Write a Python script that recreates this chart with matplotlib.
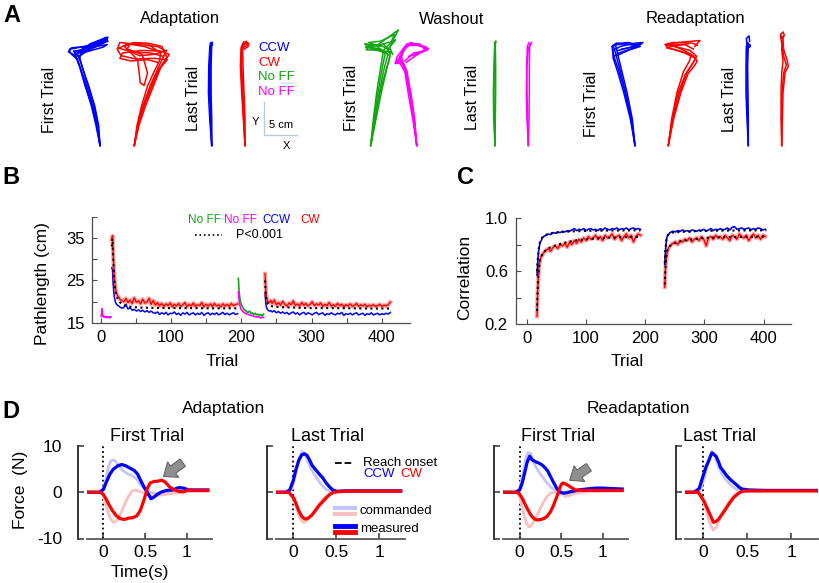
import numpy as np
import matplotlib
matplotlib.use("Agg")
import matplotlib.pyplot as plt
from matplotlib.lines import Line2D

plt.rcParams["font.family"] = ["Liberation Sans", "DejaVu Sans"]
plt.rcParams["axes.unicode_minus"] = False

W, H = 820, 583
BLUE, RED, GREEN, MAGENTA = "#0000ff", "#ff0000", "#12a612", "#ff00ff"
LBLUE, LRED = "#c3c6f8", "#f8c0c0"

# ---------------- panel A: hand trajectories (cm, relative to start) ----------------
adapt_first_ccw = [
    [(0, 0), (-0.4, 3), (-1.1, 6), (-2.0, 9), (-2.9, 11.5), (-3.4, 13.0), (-4.5, 14.0), (-4.6, 14.6), (-3.9, 14.7), (-1.5, 15.2), (0.6, 16.0), (1.2, 16.4), (1.0, 15.9), (-1.2, 14.9), (-3.0, 13.6), (-3.2, 13.2)],
    [(0, 0), (-0.5, 3), (-1.2, 6), (-2.2, 9), (-3.0, 11.8), (-3.6, 13.3), (-3.9, 14.2), (-2.5, 14.6), (0.0, 15.6), (1.1, 16.2), (0.5, 15.5), (-2.0, 14.3), (-3.3, 13.5)],
    [(0, 0), (-0.3, 3), (-0.9, 6), (-1.8, 9), (-2.6, 11.6), (-3.2, 13.4), (-4.0, 14.3), (-3.0, 14.4), (-0.8, 15.0), (1.2, 15.8), (0.8, 16.3), (-1.5, 15.4), (-3.4, 14.0)],
    [(0, 0), (-0.6, 3), (-1.3, 6), (-2.3, 9.2), (-3.1, 12.0), (-3.7, 13.6), (-4.8, 14.2), (-4.3, 14.8), (-2.0, 15.0), (0.2, 15.8), (1.0, 16.4), (0.2, 16.0), (-2.5, 14.8), (-3.5, 13.8)],
    [(0, 0), (-0.2, 3), (-0.8, 6), (-1.7, 9), (-2.5, 11.3), (-3.0, 13.0), (-3.5, 14.0), (-2.0, 14.2), (0.5, 14.9), (1.1, 15.3), (-0.5, 15.0), (-2.8, 14.2), (-3.1, 13.2)],
]
adapt_first_cw = [
    [(0, 0), (0.5, 3), (1.3, 6), (2.4, 9), (3.5, 11.5), (4.3, 13.2), (4.8, 14.3), (3.5, 15.0), (0.5, 15.3), (-2.2, 15.6), (-2.5, 14.8), (-0.5, 14.2), (2.5, 14.0), (4.4, 13.5)],
    [(0, 0), (0.6, 3), (1.5, 6), (2.7, 9), (3.8, 11.6), (4.6, 12.8), (5.3, 13.8), (4.0, 14.3), (1.0, 14.4), (-1.8, 14.0), (-2.2, 13.2), (-0.5, 12.8), (2.0, 13.0), (3.5, 12.6)],
    [(0, 0), (0.4, 3), (1.1, 6), (2.0, 9), (3.0, 11.2), (3.8, 12.8), (4.0, 14.0), (2.0, 15.4), (0.0, 15.6), (-1.5, 15.0), (0.5, 13.0), (0.9, 9.5), (1.5, 9.1), (2.0, 11.0), (1.2, 13.8), (-1.0, 14.6)],
    [(0, 0), (0.7, 3), (1.7, 6), (2.9, 9), (4.0, 11.8), (4.9, 13.4), (4.2, 15.0), (2.0, 15.5), (-0.5, 15.5), (-1.2, 14.5), (0.8, 13.6), (3.0, 13.8), (4.9, 14.4)],
    [(0, 0), (0.5, 3), (1.4, 6), (2.5, 9), (3.6, 11.4), (4.5, 12.4), (5.0, 13.0), (3.0, 13.2), (0.2, 13.1), (-2.0, 13.6), (-2.6, 14.6), (-1.0, 15.4), (1.5, 15.0), (3.2, 14.4)],
]
adapt_last_ccw = [
    [(0, 0), (-0.2, 4), (-0.35, 8), (-0.35, 12), (-0.2, 15.0), (-0.1, 15.6), (0.1, 15.2)],
    [(0, 0), (-0.1, 4), (-0.2, 8), (-0.2, 12), (-0.1, 15.2), (0.0, 15.5)],
    [(0, 0), (-0.3, 4), (-0.5, 8), (-0.45, 12), (-0.3, 14.8), (-0.2, 15.5)],
    [(0, 0), (0.0, 4), (-0.1, 8), (-0.1, 12), (0.0, 15.3), (0.1, 15.6)],
]
adapt_last_cw = [
    [(0, 0), (-0.1, 4), (-0.3, 8), (-0.5, 12), (-0.5, 14.5), (-0.3, 15.4), (0.4, 15.6), (0.5, 15.0), (-0.1, 14.6)],
    [(0, 0), (-0.2, 4), (-0.4, 8), (-0.6, 12), (-0.6, 14.8), (-0.2, 15.7), (0.3, 15.3)],
    [(0, 0), (0.0, 4), (-0.15, 8), (-0.3, 12), (-0.35, 14.6), (0.0, 15.5), (0.6, 15.4)],
    [(0, 0), (-0.25, 4), (-0.5, 8), (-0.7, 12), (-0.6, 14.2), (-0.4, 15.2), (0.2, 15.8), (0.3, 15.1), (-0.4, 14.8)],
]
wash_first_green = [
    [(0, 0), (0.6, 4), (1.3, 8), (2.0, 11.5), (2.6, 13.8), (1.5, 14.6), (-0.6, 15.0), (-0.9, 15.4), (1.0, 15.2), (4.2, 17.5), (3.6, 16.4), (2.6, 14.2)],
    [(0, 0), (0.5, 4), (1.1, 8), (1.7, 11.5), (2.2, 14.0), (0.5, 14.6), (-0.8, 14.9), (0.8, 15.1), (2.7, 15.6), (3.8, 16.0), (2.8, 14.8)],
    [(0, 0), (0.8, 4), (1.6, 8), (2.4, 11.5), (2.9, 13.5), (2.0, 14.3), (0.0, 14.8), (-0.5, 15.3), (1.8, 15.0), (3.0, 14.6), (3.3, 13.8)],
    [(0, 0), (0.4, 4), (0.9, 8), (1.5, 11.8), (1.9, 14.2), (0.8, 15.2), (-0.3, 15.6), (1.5, 15.8), (3.6, 16.8), (3.0, 15.5), (2.0, 14.5)],
    [(0, 0), (0.7, 4), (1.4, 8), (2.2, 11.0), (2.8, 13.0), (3.0, 14.2), (1.2, 14.4), (-0.7, 14.5), (-0.2, 15.1), (2.0, 15.3), (2.9, 14.0)],
]
wash_first_magenta = [
    [(0, 0), (-0.4, 4), (-1.0, 8), (-1.6, 11.5), (-2.2, 12.8), (-3.2, 12.4), (-3.0, 13.4), (-1.5, 15.4), (0.2, 15.3), (1.8, 14.6), (0.6, 14.1), (-1.2, 13.5)],
    [(0, 0), (-0.5, 4), (-1.1, 8), (-1.8, 11.6), (-2.5, 13.0), (-2.0, 14.5), (-1.0, 15.6), (0.8, 15.0), (1.6, 14.4), (-0.5, 14.0), (-1.8, 12.8)],
    [(0, 0), (-0.3, 4), (-0.9, 8), (-1.5, 11.3), (-2.0, 12.4), (-3.3, 12.5), (-2.6, 13.0), (-1.8, 14.8), (-0.6, 15.5), (1.5, 14.9), (1.0, 14.2), (-1.0, 13.6)],
    [(0, 0), (-0.6, 4), (-1.3, 8), (-1.9, 11.8), (-2.3, 13.5), (-1.6, 15.1), (0.0, 15.2), (1.7, 14.7), (0.3, 13.9), (-1.6, 12.6)],
    [(0, 0), (-0.4, 4), (-1.0, 8), (-1.7, 11.0), (-2.4, 12.2), (-2.9, 12.8), (-2.2, 14.2), (-1.2, 15.2), (0.5, 15.4), (1.2, 14.5), (-0.5, 13.6)],
]
wash_last_green = [
    [(0, 0), (-0.1, 4), (-0.15, 8), (-0.1, 12), (0.0, 15.0), (0.1, 15.8)],
    [(0, 0), (0.05, 4), (0.1, 8), (0.1, 12), (0.05, 15.2), (-0.1, 15.6)],
    [(0, 0), (-0.2, 4), (-0.25, 8), (-0.15, 12), (-0.05, 15.3), (0.15, 15.7)],
]
wash_last_magenta = [
    [(0, 0), (-0.1, 4), (-0.2, 8), (-0.25, 12), (-0.15, 15.0), (0.1, 15.6)],
    [(0, 0), (0.1, 4), (0.15, 8), (0.15, 12), (0.2, 15.2), (0.5, 15.6)],
    [(0, 0), (-0.2, 4), (-0.3, 8), (-0.2, 12), (0.0, 14.8), (0.4, 15.3)],
]
re_first_ccw = [
    [(0, 0), (-0.6, 4), (-1.5, 8), (-2.5, 11.5), (-3.2, 13.5), (-3.5, 15.0), (-2.8, 15.5), (-0.5, 15.3), (1.0, 15.4), (0.0, 14.8), (-2.5, 14.0), (-3.2, 13.5)],
    [(0, 0), (-0.5, 4), (-1.4, 8), (-2.3, 11.6), (-2.9, 13.8), (-3.3, 15.2), (-1.5, 15.4), (0.8, 15.0), (-0.8, 14.5), (-2.8, 13.6)],
    [(0, 0), (-0.7, 4), (-1.7, 8), (-2.7, 11.4), (-3.3, 13.2), (-3.4, 14.4), (-2.2, 15.0), (0.0, 15.5), (1.2, 15.6), (0.2, 15.0), (-2.0, 14.6)],
    [(0, 0), (-0.4, 4), (-1.2, 8), (-2.1, 11.7), (-2.7, 14.2), (-3.0, 15.4), (-1.0, 15.6), (0.5, 15.2), (-1.0, 14.8), (-2.5, 14.4)],
]
re_first_cw = [
    [(0, 0), (0.6, 4), (1.5, 8), (2.6, 10.8), (3.6, 12.3), (4.3, 13.5), (3.3, 14.4), (1.0, 15.0), (-0.5, 15.3), (1.5, 15.6), (4.8, 15.9), (4.0, 15.0)],
    [(0, 0), (0.7, 4), (1.7, 8), (2.8, 11.0), (3.8, 12.6), (4.1, 13.2), (2.5, 14.0), (0.0, 14.8), (-0.4, 15.2), (2.5, 15.3), (3.8, 14.6)],
    [(0, 0), (0.5, 4), (1.3, 8), (2.3, 11.2), (3.2, 12.8), (3.5, 13.8), (2.0, 14.6), (-0.2, 15.4), (0.8, 15.6), (3.6, 15.5), (4.4, 15.2)],
    [(0, 0), (0.8, 4), (1.9, 8), (3.0, 10.9), (3.9, 12.0), (4.4, 12.8), (3.8, 13.6), (1.5, 14.4), (-0.3, 14.8), (1.0, 15.1), (3.0, 15.4)],
]
re_last_ccw = [
    [(0, 0), (-0.1, 4), (-0.2, 8), (-0.2, 12), (-0.15, 15.0), (-0.3, 16.2), (0.1, 16.6), (0.2, 15.8)],
    [(0, 0), (0.0, 4), (-0.05, 8), (-0.1, 12), (0.0, 15.4), (0.3, 15.2)],
    [(0, 0), (-0.2, 4), (-0.35, 8), (-0.35, 12), (-0.3, 15.0), (-0.1, 15.6), (0.3, 15.0), (-0.2, 14.6)],
]
re_last_cw = [
    [(0, 0), (0.0, 4), (0.05, 8), (0.3, 11.0), (0.7, 12.2), (0.3, 13.5), (0.0, 15.5), (-0.2, 16.8), (0.2, 17.2), (0.4, 16.7), (0.0, 16.3)],
    [(0, 0), (-0.1, 4), (-0.1, 8), (0.0, 11.0), (0.2, 12.8), (0.0, 14.5), (0.1, 16.0), (0.3, 16.5)],
    [(0, 0), (0.1, 4), (0.2, 8), (0.5, 11.0), (1.0, 12.0), (0.8, 13.0), (0.3, 14.5), (0.2, 16.0), (-0.1, 16.6)],
]

# ---------------- panel B: path length (cm) per trial ----------------
base_trials = list(range(1, 16))
base_magenta = [16.6, 18.4, 17.0, 16.4, 16.7, 16.3, 16.5, 16.2, 16.6, 16.3, 16.4, 16.2, 16.5, 16.3, 16.4]
base_green = [16.5, 17.6, 16.8, 16.5, 16.6, 16.4, 16.5, 16.3, 16.5, 16.4, 16.3, 16.3, 16.4, 16.2, 16.5]

adapt_trials = [16, 17, 18, 19, 20, 21, 22, 24, 26, 28, 30] + list(range(33, 196, 3))
adapt_red = [34.5, 35.5, 31.0, 28.0, 25.0, 23.5, 22.5, 21.5, 21.0, 20.5, 20.3,
             20.0, 20.8, 19.8, 20.4, 19.6, 20.9, 19.9, 20.2, 19.5, 20.6,
             19.7, 19.9, 20.8, 19.4, 20.3, 19.2, 19.8, 19.0, 19.6, 18.9,
             19.5, 19.1, 19.7, 18.8, 19.4, 19.0, 19.6, 18.9, 19.3, 19.8,
             18.8, 19.4, 19.0, 19.7, 18.9, 19.3, 19.1, 19.8, 18.8, 19.4,
             19.0, 19.5, 18.9, 19.6, 19.0, 19.3, 18.8, 19.5, 19.0, 19.4,
             18.9, 19.6, 19.1, 19.3, 19.5]
adapt_blue = [28.0, 27.5, 24.0, 22.0, 20.8, 20.0, 19.6, 19.2, 19.0, 18.7, 18.5,
              18.6, 19.4, 18.3, 18.6, 18.0, 18.2, 17.8, 18.1, 17.7, 18.0,
              17.6, 17.9, 17.5, 17.8, 17.4, 17.3, 17.6, 17.0, 17.4, 17.1,
              17.5, 16.9, 17.3, 17.2, 17.6, 17.0, 17.3, 16.8, 17.4, 17.1,
              17.5, 16.9, 17.2, 17.4, 16.9, 17.3, 17.0, 17.5, 16.8, 17.2,
              17.4, 16.9, 17.3, 17.0, 17.4, 16.9, 17.2, 17.5, 17.0, 17.3,
              16.9, 17.2, 17.4, 17.0, 17.2]
adapt_fit_trials = [16, 17, 18, 19, 20, 21, 22, 24, 26, 28, 30, 35, 40, 50, 60, 80, 100, 130, 160, 195]
adapt_fit = [33.0, 34.8, 30.5, 27.0, 24.5, 23.0, 22.0, 20.8, 20.2, 19.8, 19.5, 19.1, 18.9, 18.7,
             18.6, 18.55, 18.5, 18.5, 18.45, 18.45]

wash_trials = [196, 197, 198, 199, 200, 202, 204, 206, 208, 210, 212, 214, 216, 218, 220, 222, 224, 226, 228, 230, 232]
wash_green = [25.5, 22.5, 21.0, 20.0, 19.4, 18.8, 18.2, 18.0, 17.6, 17.5, 17.8, 17.2, 17.4, 17.0, 17.3, 16.9, 17.1, 16.8, 17.0, 16.7, 17.1]
wash_magenta = [22.3, 20.5, 19.3, 18.6, 18.2, 17.8, 17.5, 17.3, 17.1, 17.0, 16.9, 16.8, 16.7, 16.6, 16.5, 16.4, 16.5, 16.3, 16.2, 16.4, 16.3]

re_trials = [234, 235, 236, 237, 238, 240, 242] + list(range(244, 413, 3))
re_red = [26.6, 22.5, 21.0, 20.4, 20.0, 19.8, 20.3,
          19.6, 20.4, 19.3, 19.8, 19.2, 20.1, 19.4, 19.0, 19.7, 19.3,
          20.2, 19.1, 19.5, 19.0, 19.8, 19.2, 19.6, 19.0, 19.4, 20.0,
          19.1, 19.5, 19.2, 19.7, 18.9, 19.4, 19.1, 19.8, 19.0, 19.3,
          18.9, 19.6, 19.1, 19.4, 18.8, 19.3, 19.0, 19.5, 18.9, 19.2,
          19.6, 18.9, 19.3, 19.0, 19.4, 18.8, 19.2, 19.0, 19.3, 18.9,
          19.1, 19.4, 18.9, 19.2, 19.0, 19.3, 19.9]
re_blue = [22.0, 19.5, 18.7, 18.3, 18.0, 17.8, 17.9,
           17.6, 17.9, 17.4, 17.7, 17.3, 17.6, 17.2, 17.5, 17.0, 17.4,
           17.6, 17.1, 17.4, 16.9, 17.3, 17.5, 17.0, 17.4, 17.2, 16.9,
           17.3, 17.5, 17.0, 17.2, 17.4, 16.8, 17.2, 17.0, 17.4, 17.1,
           16.9, 17.3, 17.1, 17.5, 16.8, 17.2, 17.0, 17.3, 16.9, 17.2,
           17.4, 16.9, 17.1, 17.3, 16.8, 17.2, 17.0, 17.4, 16.9, 17.1,
           17.3, 16.9, 17.2, 17.0, 17.3, 17.1, 17.5]
re_fit_trials = [234, 235, 236, 237, 238, 240, 242, 245, 250, 260, 280, 300, 330, 360, 390, 412]
re_fit = [25.0, 21.5, 20.3, 19.8, 19.5, 19.2, 19.0, 18.9, 18.8, 18.7, 18.6, 18.5, 18.5, 18.45, 18.4, 18.4]

# ---------------- panel C: correlation per trial ----------------
c_adapt_trials = [17, 18, 19, 20, 21, 22, 24, 26, 28, 30, 33] + list(range(36, 193, 4))
c_adapt_blue = [0.57, 0.66, 0.72, 0.76, 0.79, 0.81, 0.83, 0.85, 0.86, 0.865, 0.87,
                0.88, 0.875, 0.89, 0.885, 0.895, 0.89, 0.9, 0.895, 0.905, 0.9,
                0.91, 0.92, 0.905, 0.915, 0.91, 0.92, 0.905, 0.915, 0.92, 0.91,
                0.915, 0.905, 0.92, 0.91, 0.925, 0.915, 0.91, 0.92, 0.915, 0.925,
                0.91, 0.92, 0.915, 0.925, 0.91, 0.92, 0.925, 0.915, 0.92, 0.915]
c_adapt_red = [0.26, 0.44, 0.54, 0.61, 0.65, 0.68, 0.71, 0.72, 0.74, 0.745, 0.76,
               0.77, 0.75, 0.78, 0.79, 0.77, 0.8, 0.79, 0.81, 0.78, 0.82,
               0.8, 0.83, 0.81, 0.84, 0.82, 0.85, 0.83, 0.86, 0.84, 0.85,
               0.87, 0.84, 0.86, 0.83, 0.87, 0.85, 0.86, 0.88, 0.84, 0.86,
               0.87, 0.83, 0.86, 0.88, 0.85, 0.87, 0.82, 0.86, 0.88, 0.87]
c_adapt_fit_trials = [17, 18, 19, 20, 21, 22, 24, 26, 28, 30, 33, 36, 40, 50, 60, 80, 100, 130, 160, 192]
c_adapt_fit_blue = [0.60, 0.68, 0.73, 0.77, 0.80, 0.82, 0.84, 0.855, 0.865, 0.87, 0.875, 0.88, 0.885,
                    0.89, 0.895, 0.9, 0.903, 0.905, 0.906, 0.907]
c_adapt_fit_red = [0.30, 0.46, 0.55, 0.61, 0.65, 0.68, 0.71, 0.725, 0.74, 0.75, 0.76, 0.77, 0.78,
                   0.795, 0.81, 0.83, 0.84, 0.85, 0.855, 0.858]

c_re_trials = [233, 234, 235, 236, 237, 238, 240, 242, 244] + list(range(247, 406, 4))
c_re_blue = [0.65, 0.74, 0.8, 0.84, 0.86, 0.87, 0.88, 0.89, 0.895,
             0.9, 0.895, 0.905, 0.9, 0.91, 0.9, 0.905, 0.895, 0.91, 0.905,
             0.9, 0.91, 0.905, 0.915, 0.9, 0.91, 0.92, 0.905, 0.915, 0.91,
             0.92, 0.91, 0.915, 0.925, 0.91, 0.93, 0.935, 0.915, 0.92, 0.925,
             0.915, 0.92, 0.925, 0.91, 0.92, 0.915, 0.925, 0.92, 0.91, 0.915]
c_re_red = [0.48, 0.6, 0.67, 0.71, 0.74, 0.76, 0.78, 0.79, 0.8,
            0.81, 0.82, 0.8, 0.83, 0.82, 0.84, 0.83, 0.85, 0.82, 0.84,
            0.85, 0.83, 0.86, 0.84, 0.79, 0.85, 0.86, 0.84, 0.87, 0.85,
            0.86, 0.84, 0.87, 0.85, 0.83, 0.87, 0.86, 0.84, 0.88, 0.86,
            0.85, 0.87, 0.83, 0.86, 0.88, 0.85, 0.87, 0.84, 0.87, 0.86]
c_re_fit_trials = [233, 234, 235, 236, 237, 238, 240, 242, 245, 250, 260, 280, 300, 330, 360, 405]
c_re_fit_blue = [0.66, 0.75, 0.80, 0.84, 0.86, 0.87, 0.88, 0.885, 0.89, 0.892, 0.895, 0.9, 0.903, 0.905, 0.906, 0.907]
c_re_fit_red = [0.50, 0.62, 0.68, 0.72, 0.745, 0.76, 0.78, 0.79, 0.80, 0.81, 0.825, 0.84, 0.85, 0.855, 0.858, 0.86]

# ---------------- panel D: force profiles (s, N) ----------------
d1_mb_t = [-0.2, -0.05, 0.0, 0.04, 0.08, 0.12, 0.17, 0.22, 0.27, 0.32, 0.37, 0.41, 0.45, 0.49, 0.53, 0.57, 0.61, 0.65, 0.7, 0.76, 0.83, 0.9, 0.96, 1.02, 1.1, 1.2, 1.25]
d1_mb_f = [0, 0, 0.6, 2.4, 4.0, 5.0, 5.7, 6.0, 5.7, 5.2, 4.7, 3.9, 2.4, 1.0, -0.2, -1.4, -1.0, -0.4, 0.1, 0.4, 0.5, 1.0, 0.9, 0.5, 0.5, 0.5, 0.5]
d1_cb_t = [-0.2, -0.05, 0.0, 0.03, 0.06, 0.09, 0.12, 0.15, 0.19, 0.24, 0.29, 0.34, 0.39, 0.44, 0.5, 0.56, 0.62, 0.7, 0.8, 0.95, 1.1, 1.25]
d1_cb_f = [0, 0, 0.8, 3.0, 5.5, 6.8, 7.0, 6.6, 5.6, 4.6, 4.0, 3.6, 3.0, 1.8, 0.6, 0.0, -0.3, -0.1, 0.2, 0.3, 0.3, 0.3]
d1_mr_t = [-0.2, -0.03, 0.0, 0.03, 0.07, 0.11, 0.15, 0.2, 0.25, 0.3, 0.35, 0.4, 0.44, 0.47, 0.5, 0.53, 0.56, 0.6, 0.65, 0.7, 0.74, 0.79, 0.84, 0.9, 0.96, 1.02, 1.1, 1.25]
d1_mr_f = [0, 0, -0.5, -1.4, -2.8, -4.0, -5.0, -5.7, -5.9, -5.6, -5.5, -5.1, -4.0, -2.5, -0.8, 1.0, 2.0, 2.3, 2.4, 2.6, 2.2, 1.2, 0.6, 0.2, 0.1, 0.5, 0.4, 0.4]
d1_cr_t = [-0.2, -0.03, 0.0, 0.04, 0.08, 0.12, 0.15, 0.19, 0.24, 0.29, 0.34, 0.38, 0.43, 0.5, 0.57, 0.65, 0.73, 0.85, 1.0, 1.25]
d1_cr_f = [0, 0, -0.8, -3.5, -5.6, -6.5, -6.3, -5.3, -3.2, -1.2, 0.2, 0.5, 0.2, -0.3, -0.8, -0.7, -0.5, -0.2, 0.1, 0.2]

d2_mb_t = [-0.2, -0.09, -0.04, 0.0, 0.03, 0.065, 0.1, 0.13, 0.16, 0.19, 0.22, 0.26, 0.3, 0.34, 0.38, 0.42, 0.46, 0.51, 0.6, 0.8, 1.0, 1.25]
d2_mb_f = [0, 0, 0.5, 2.5, 4.8, 6.9, 8.1, 8.3, 8.0, 7.0, 5.8, 4.9, 4.0, 3.2, 2.1, 1.2, 0.5, 0.2, 0.3, 0.3, 0.3, 0.3]
d2_cb_t = [-0.2, -0.06, -0.02, 0.02, 0.06, 0.1, 0.13, 0.17, 0.2, 0.24, 0.28, 0.33, 0.38, 0.44, 0.5, 0.7, 1.0, 1.25]
d2_cb_f = [0, 0, 0.6, 3.2, 6.8, 8.8, 8.5, 6.8, 5.4, 4.0, 2.9, 1.6, 0.6, 0.2, 0.2, 0.2, 0.2, 0.2]
d2_mr_t = [-0.2, -0.05, 0.01, 0.04, 0.065, 0.1, 0.13, 0.15, 0.18, 0.22, 0.26, 0.3, 0.35, 0.39, 0.43, 0.47, 0.55, 0.7, 1.0, 1.25]
d2_mr_f = [0, 0, -1.4, -2.8, -4.0, -5.2, -5.7, -5.8, -5.5, -4.9, -3.9, -2.9, -1.9, -1.1, -0.4, 0.0, 0.2, 0.25, 0.25, 0.25]
d2_cr_t = [-0.2, -0.05, 0.0, 0.04, 0.08, 0.11, 0.13, 0.17, 0.21, 0.25, 0.3, 0.35, 0.4, 0.45, 0.55, 0.8, 1.25]
d2_cr_f = [0, 0, -1.2, -3.6, -5.6, -6.4, -6.5, -6.0, -5.0, -3.9, -2.6, -1.4, -0.6, -0.2, 0.1, 0.1, 0.1]

d3_mb_t = [-0.2, -0.05, 0.0, 0.03, 0.06, 0.09, 0.12, 0.15, 0.19, 0.23, 0.27, 0.31, 0.34, 0.37, 0.41, 0.45, 0.49, 0.53, 0.57, 0.61, 0.66, 0.71, 0.8, 0.91, 1.0, 1.1, 1.23]
d3_mb_f = [0, 0, 0.5, 2.0, 4.2, 6.5, 7.8, 7.0, 6.6, 6.3, 5.9, 5.2, 4.5, 3.4, 2.0, 0.7, 0.0, -0.2, -0.1, 0.1, 0.3, 0.5, 0.7, 0.9, 0.9, 0.8, 0.7]
d3_cb_t = [-0.2, -0.05, 0.0, 0.04, 0.08, 0.1, 0.13, 0.16, 0.19, 0.23, 0.27, 0.32, 0.37, 0.41, 0.45, 0.5, 0.55, 0.6, 0.7, 0.9, 1.23]
d3_cb_f = [0, 0, 0.6, 4.0, 7.8, 8.6, 8.4, 7.0, 5.6, 4.4, 3.4, 2.2, 1.2, 0.6, 0.1, -0.1, 0.0, 0.2, 0.4, 0.5, 0.5]
d3_mr_t = [-0.2, -0.03, 0.0, 0.03, 0.06, 0.09, 0.12, 0.15, 0.18, 0.21, 0.25, 0.29, 0.33, 0.37, 0.4, 0.43, 0.46, 0.48, 0.5, 0.52, 0.55, 0.59, 0.63, 0.67, 0.75, 0.83, 1.0, 1.23]
d3_mr_f = [0, 0, -0.4, -1.3, -2.4, -3.5, -4.5, -5.3, -5.8, -6.0, -5.9, -5.7, -5.2, -4.2, -3.1, -1.7, -0.3, 0.9, 1.7, 2.0, 1.8, 1.4, 0.9, 0.5, 0.4, 0.4, 0.4, 0.4]
d3_cr_t = [-0.2, -0.04, 0.0, 0.04, 0.08, 0.11, 0.14, 0.19, 0.24, 0.29, 0.33, 0.37, 0.41, 0.45, 0.5, 0.55, 0.6, 0.67, 0.8, 1.0, 1.23]
d3_cr_f = [0, 0, -1.0, -4.0, -6.6, -7.5, -7.2, -5.7, -3.8, -2.0, -0.9, -0.2, 0.0, 0.1, -0.4, -0.9, -0.7, -0.2, 0.1, 0.2, 0.2]

d4_mb_t = [-0.2, -0.1, -0.04, 0.0, 0.035, 0.07, 0.09, 0.105, 0.13, 0.15, 0.18, 0.2, 0.24, 0.27, 0.32, 0.37, 0.41, 0.44, 0.52, 0.7, 1.0, 1.3]
d4_mb_f = [0, 0, 0.8, 3.3, 5.4, 6.9, 7.9, 8.5, 8.1, 7.8, 6.5, 5.4, 4.4, 3.6, 2.6, 1.8, 1.1, 0.7, 0.5, 0.4, 0.4, 0.4]
d4_cb_t = [-0.2, -0.08, -0.02, 0.03, 0.07, 0.1, 0.13, 0.18, 0.22, 0.27, 0.32, 0.37, 0.42, 0.5, 0.8, 1.3]
d4_cb_f = [0, 0, 0.8, 4.0, 7.3, 8.8, 8.3, 5.4, 3.8, 2.5, 1.5, 0.7, 0.3, 0.3, 0.3, 0.3]
d4_mr_t = [-0.2, -0.05, 0.01, 0.04, 0.07, 0.1, 0.12, 0.15, 0.18, 0.22, 0.26, 0.3, 0.35, 0.4, 0.44, 0.5, 0.8, 1.3]
d4_mr_f = [0, 0, -1.8, -3.0, -4.3, -5.6, -6.5, -6.3, -5.8, -4.7, -3.6, -2.4, -1.1, -0.3, 0.2, 0.3, 0.3, 0.3]
d4_cr_t = [-0.2, -0.05, 0.0, 0.04, 0.08, 0.12, 0.15, 0.2, 0.25, 0.29, 0.34, 0.39, 0.45, 0.6, 1.3]
d4_cr_f = [0, 0, -1.3, -4.2, -6.8, -8.2, -7.6, -5.4, -3.6, -2.2, -1.0, -0.2, 0.1, 0.2, 0.2]


def box(left, top, right, bottom):
    # pixel box -> figure fraction rect
    return [left / W, 1 - bottom / H, (right - left) / W, (bottom - top) / H]


def ftext(px, py, s, **kw):
    kw.setdefault("ha", "center")
    kw.setdefault("va", "center")
    fig.text(px / W, 1 - py / H, s, **kw)


def fline(xs, ys, **kw):
    fig.add_artist(Line2D([x / W for x in xs], [1 - y / H for y in ys], transform=fig.transFigure, **kw))


fig = plt.figure(figsize=(8.2, 5.83), dpi=100)

# ---- A ----
PX_CM = 6.6
axA = fig.add_axes(box(0, 25, 820, 160))
axA.set_xlim(0, W / PX_CM)
axA.set_ylim(-2.2, 18.25)
axA.axis("off")
a_groups = [
    (15.15, adapt_first_ccw, BLUE), (20.35, adapt_first_cw, RED),
    (32.08, adapt_last_ccw, BLUE), (37.12, adapt_last_cw, RED),
    (56.17, wash_first_green, GREEN), (63.14, wash_first_magenta, MAGENTA),
    (75.0, wash_last_green, GREEN), (80.05, wash_last_magenta, MAGENTA),
    (96.21, re_first_ccw, BLUE), (101.26, re_first_cw, RED),
    (113.38, re_last_ccw, BLUE), (118.44, re_last_cw, RED),
]
for x0, traces, col in a_groups:
    for tr in traces:
        xs, ys = zip(*tr)
        axA.plot(np.array(xs) + x0, ys, color=col, lw=1.1, solid_joinstyle="round")
# 5 cm scale bar
axA.plot([40.0, 40.0, 45.0], [6.6, 1.6, 1.6], color="#b9c9dc", lw=1.0)

ftext(12, 16, "A", fontsize=17, fontweight="bold")
ftext(180, 19, "Adaptation", fontsize=12)
ftext(452, 19, "Washout", fontsize=12)
ftext(695, 18, "Readaptation", fontsize=12)
for px, py, s in [(50, 100, "First Trial"), (193.5, 98, "Last Trial"), (351.7, 98, "First Trial"),
                  (472.5, 97, "Last Trial"), (591.7, 104, "First Trial"), (730, 99, "Last Trial")]:
    ftext(px, py, s, rotation=90, fontsize=11.5)
for py, s, col in [(48, "CCW", BLUE), (63, "CW", RED), (77.5, "No FF", GREEN), (92, "No FF", MAGENTA)]:
    ftext(258, py, s, color=col, ha="left", fontsize=9.5)
ftext(255, 122, "Y", fontsize=8)
ftext(281, 125, "5 cm", fontsize=8)
ftext(286, 146, "X", fontsize=8)


def trial_axes(ax, off):
    for s in ("top", "right"):
        ax.spines[s].set_visible(False)
    ax.spines["left"].set_position(("outward", off))
    for s in ("left", "bottom"):
        ax.spines[s].set_color("0.3")
        ax.spines[s].set_linewidth(0.9)
    ax.tick_params(which="both", direction="in", length=3.5, width=0.8, color="0.3", labelsize=12)


# ---- B ----
axB = fig.add_axes(box(97, 216.7, 410, 323))
axB.plot(base_trials, base_green, color=GREEN, lw=1)
axB.plot(base_trials, base_magenta, color=MAGENTA, lw=1)
axB.plot(adapt_trials, adapt_blue, color=BLUE, lw=1.1)
axB.plot(adapt_trials, adapt_red, color=RED, lw=3, alpha=0.35)
axB.plot(adapt_trials, adapt_red, color=RED, lw=1)
axB.plot(adapt_fit_trials, adapt_fit, color="k", ls=":", lw=1.5)
axB.plot(wash_trials, wash_green, color=GREEN, lw=1.2)
axB.plot(wash_trials, wash_magenta, color=MAGENTA, lw=1.2)
axB.plot(re_trials, re_blue, color=BLUE, lw=1.1)
axB.plot(re_trials, re_red, color=RED, lw=3, alpha=0.35)
axB.plot(re_trials, re_red, color=RED, lw=1)
axB.plot(re_fit_trials, re_fit, color="k", ls=":", lw=1.5)
axB.set_xlim(-5, 440)
axB.set_ylim(15, 40)
axB.set_yticks([15, 25, 35])
axB.set_yticks([20, 30, 40], minor=True)
axB.set_xticks([0, 100, 200, 300, 400])
axB.set_xticks([50, 150, 250, 350], minor=True)
trial_axes(axB, 3.6)
axB.tick_params(axis="y", pad=5)
axB.tick_params(axis="x", pad=5)

ftext(11, 178, "B", fontsize=17, fontweight="bold")
ftext(43, 284, "Pathlength (cm)", rotation=90, fontsize=12.5)
ftext(222, 362, "Trial", fontsize=12.5)
for px, s, col in [(188, "No FF", GREEN), (224, "No FF", MAGENTA), (262, "CCW", BLUE), (300, "CW", RED)]:
    ftext(px, 220, s, color=col, ha="left", fontsize=8.5)
fline([195, 222], [235, 235], color="k", ls=":", lw=1.2)
ftext(236, 235, "P<0.001", ha="left", fontsize=9)

# ---- C ----
axC = fig.add_axes(box(519.3, 218, 790.7, 324.3))
axC.plot(c_adapt_trials, c_adapt_red, color=RED, lw=3, alpha=0.35)
axC.plot(c_adapt_trials, c_adapt_red, color=RED, lw=1)
axC.plot(c_adapt_trials, c_adapt_blue, color=BLUE, lw=1.2)
axC.plot(c_adapt_fit_trials, c_adapt_fit_blue, color="k", ls=":", lw=1.5)
axC.plot(c_adapt_fit_trials, c_adapt_fit_red, color="k", ls=":", lw=1.5)
axC.plot(c_re_trials, c_re_red, color=RED, lw=3, alpha=0.35)
axC.plot(c_re_trials, c_re_red, color=RED, lw=1)
axC.plot(c_re_trials, c_re_blue, color=BLUE, lw=1.2)
axC.plot(c_re_fit_trials, c_re_fit_blue, color="k", ls=":", lw=1.5)
axC.plot(c_re_fit_trials, c_re_fit_red, color="k", ls=":", lw=1.5)
axC.set_xlim(-13, 446)
axC.set_ylim(0.2, 1.0)
axC.set_yticks([0.2, 0.6, 1.0])
axC.set_yticklabels(["0.2", "0.6", "1.0"])
axC.set_yticks([0.4, 0.8], minor=True)
axC.set_xticks([0, 100, 200, 300, 400])
trial_axes(axC, 2.2)
axC.tick_params(axis="y", pad=6)
axC.tick_params(axis="x", pad=5)

ftext(466, 178, "C", fontsize=17, fontweight="bold")
ftext(465, 277, "Correlation", rotation=90, fontsize=12.5)
ftext(627, 361, "Trial", fontsize=12.5)

# ---- D ----
d_panels = [
    ((86.7, 212), "First Trial", (d1_cb_t, d1_cb_f, d1_cr_t, d1_cr_f, d1_mb_t, d1_mb_f, d1_mr_t, d1_mr_f)),
    ((276, 405), "Last Trial", (d2_cb_t, d2_cb_f, d2_cr_t, d2_cr_f, d2_mb_t, d2_mb_f, d2_mr_t, d2_mr_f)),
    ((503, 628), "First Trial", (d3_cb_t, d3_cb_f, d3_cr_t, d3_cr_f, d3_mb_t, d3_mb_f, d3_mr_t, d3_mr_f)),
    ((685, 818), "Last Trial", (d4_cb_t, d4_cb_f, d4_cr_t, d4_cr_f, d4_mb_t, d4_mb_f, d4_mr_t, d4_mr_f)),
]
d_axes = []
for i, ((l, r), title, curves) in enumerate(d_panels):
    ax = fig.add_axes(box(l, 446, r, 538.5))
    cbt, cbf, crt, crf, mbt, mbf, mrt, mrf = curves
    ax.axvline(0, color="k", ls=":", lw=1.3)
    ax.plot(cbt, cbf, color=LBLUE, lw=2.0)
    ax.plot(crt, crf, color=LRED, lw=2.0)
    ax.plot(mbt, mbf, color=BLUE, lw=2.3)
    ax.plot(mrt, mrf, color=RED, lw=2.3)
    ax.set_xlim(-0.2, 1.3)
    ax.set_ylim(-10, 10)
    ax.set_xticks([0, 0.5, 1])
    ax.set_xticklabels(["0", "0.5", "1"])
    ax.set_yticks([-10, 0, 10])
    for s in ("top", "right"):
        ax.spines[s].set_visible(False)
    ax.spines["left"].set_position(("outward", 6.5))
    ax.spines["left"].set_color("0.15")
    ax.spines["left"].set_linewidth(1.3)
    ax.spines["bottom"].set_color("0.35")
    ax.spines["bottom"].set_linewidth(1.3)
    ax.tick_params(direction="in", length=4, width=1.1, color="0.2", labelsize=12.5)
    ax.tick_params(axis="y", pad=11)
    ax.tick_params(axis="x", pad=5)
    if i > 0:
        ax.set_yticklabels([])
    d_axes.append(ax)

arrow_kw = dict(arrowstyle="simple,head_length=0.5,head_width=0.8,tail_width=0.38",
                fc="0.56", ec="0.4", lw=0.8, mutation_scale=17, shrinkA=0, shrinkB=0)
d_axes[0].annotate("", xy=(0.72, 3.4), xytext=(0.95, 6.4), arrowprops=arrow_kw)
d_axes[2].annotate("", xy=(0.6, 2.6), xytext=(0.83, 5.4), arrowprops=arrow_kw)

ftext(11, 411, "D", fontsize=17, fontweight="bold")
ftext(224, 408, "Adaptation", fontsize=12.5)
ftext(638, 408, "Readaptation", fontsize=12.5)
for px, s in [(147, "First Trial"), (328, "Last Trial"), (558, "First Trial"), (720, "Last Trial")]:
    ftext(px, 436.5, s, fontsize=13)
ftext(21, 490, "Force  (N)", rotation=90, fontsize=12.5)
ftext(140, 573, "Time(s)", fontsize=12.5)

# legend of D (drawn beside the second panel)
fline([335, 352], [462.7, 462.7], color="k", ls="--", lw=1.3)
ftext(363, 462.7, "Reach onset", ha="left", fontsize=9.5)
ftext(363, 474, "CCW", ha="left", color=BLUE, fontsize=9.5)
ftext(400, 474, "CW", ha="left", color=RED, fontsize=9.5)
fline([335, 355], [508.3, 508.3], color=LBLUE, lw=3)
fline([335, 355], [514, 514], color=LRED, lw=3)
ftext(360, 511, "commanded", ha="left", fontsize=9.5)
fline([335, 355], [526, 526], color=BLUE, lw=3.5)
fline([335, 355], [532, 532], color=RED, lw=3.5)
ftext(360, 529, "measured", ha="left", fontsize=9.5)

fig.savefig("out.png", dpi=100)
